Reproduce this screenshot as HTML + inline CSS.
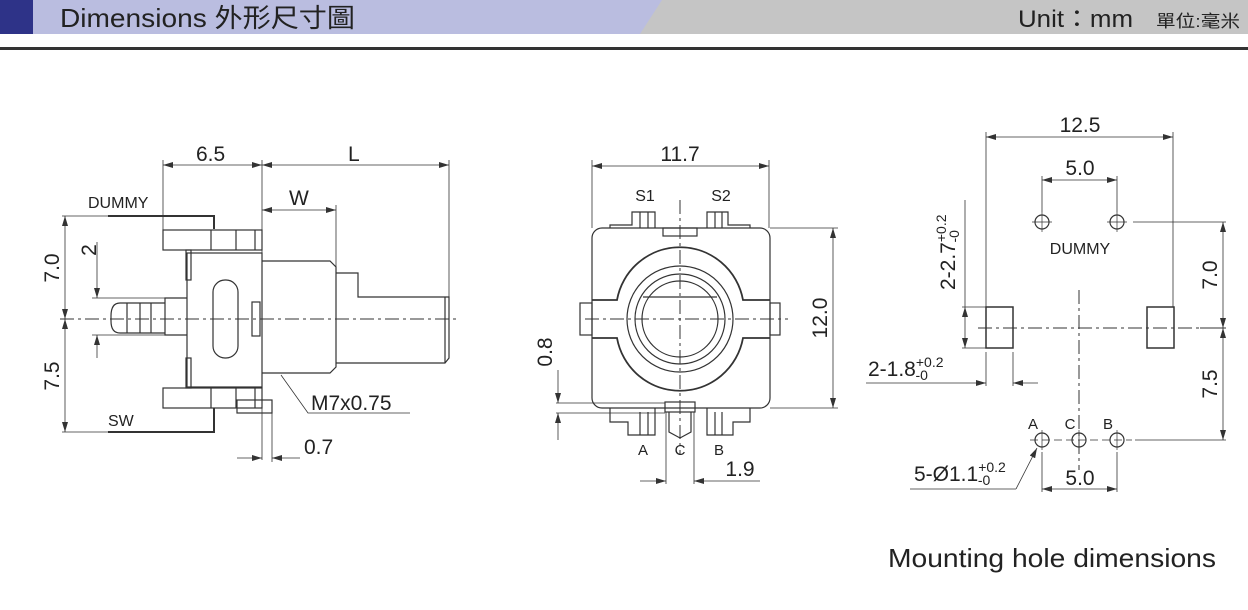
<!DOCTYPE html>
<html><head><meta charset="utf-8"><style>
html,body{margin:0;padding:0;background:#fff;width:1248px;height:610px;overflow:hidden}
svg{display:block}
text{font-family:"Liberation Sans","Noto Sans CJK TC",sans-serif;fill:#222}
</style></head><body>
<svg width="1248" height="610" viewBox="0 0 1248 610" xmlns="http://www.w3.org/2000/svg">
<defs>
<marker id="a" viewBox="0 0 10 6" refX="10" refY="3" markerWidth="10" markerHeight="6" orient="auto-start-reverse" markerUnits="userSpaceOnUse"><path d="M0,0L10,3L0,6z" fill="#333"/></marker>
</defs>
<!-- header -->
<rect x="0" y="0" width="1248" height="34" fill="#c5c5c5"/>
<polygon points="0,0 662,0 640,34 0,34" fill="#babde0"/>
<rect x="0" y="0" width="33" height="34" fill="#2e3388"/>
<text x="60" y="27" font-size="26" fill="#111" textLength="295" lengthAdjust="spacingAndGlyphs">Dimensions  外形尺寸圖</text>
<text x="1018" y="27" font-size="24" fill="#111" textLength="115" lengthAdjust="spacingAndGlyphs">Unit：mm</text>
<text x="1156" y="27" font-size="17" fill="#111" textLength="84" lengthAdjust="spacingAndGlyphs">單位:毫米</text>
<rect x="0" y="47" width="1248" height="3" fill="#333"/>

<g fill="none" stroke="#333" stroke-width="1.2">
<!-- LEFT VIEW -->
<line x1="60" y1="319" x2="458" y2="319" stroke-dasharray="14,4,3,4" stroke-width="1"/>
<line x1="163" y1="160" x2="163" y2="230" stroke-width="0.8"/>
<line x1="262" y1="160" x2="262" y2="460" stroke-width="0.8"/>
<line x1="449" y1="160" x2="449" y2="297" stroke-width="0.8"/>
<line x1="336" y1="205" x2="336" y2="273" stroke-width="0.8"/>
<line x1="163" y1="165" x2="262" y2="165" marker-start="url(#a)" marker-end="url(#a)" stroke-width="0.8"/>
<line x1="262" y1="165" x2="449" y2="165" marker-start="url(#a)" marker-end="url(#a)" stroke-width="0.8"/>
<line x1="262" y1="210" x2="336" y2="210" marker-start="url(#a)" marker-end="url(#a)" stroke-width="0.8"/>
<rect x="187" y="253" width="75" height="134"/>
<rect x="163" y="230" width="99" height="20"/>
<rect x="163" y="388" width="99" height="20"/>
<line x1="211" y1="230" x2="211" y2="250"/><line x1="236" y1="230" x2="236" y2="250"/><line x1="255" y1="230" x2="255" y2="250"/>
<line x1="211" y1="388" x2="211" y2="408"/><line x1="236" y1="388" x2="236" y2="408"/><line x1="255" y1="388" x2="255" y2="408"/>
<rect x="237" y="400" width="35" height="13"/>
<rect x="213" y="280" width="25" height="78" rx="12"/>
<rect x="252" y="302" width="8" height="34"/>
<rect x="186" y="250" width="5" height="30"/><rect x="186" y="358" width="5" height="30"/>
<polyline points="108,216 214,216 214,229" stroke-width="2"/>
<polyline points="108,432 214,432 214,408" stroke-width="2"/>
<path d="M187,298 L165,298 L165,335 L187,335"/>
<path d="M165,303 L120,303 Q111,303 111,316 L111,321 Q111,333 120,333 L165,333"/>
<line x1="127" y1="303" x2="127" y2="333"/><line x1="140" y1="303" x2="140" y2="333"/><line x1="151" y1="303" x2="151" y2="333"/>
<path d="M262,261 L330,261 L336,267 L336,367 L330,373 L262,373"/>
<path d="M336,273 L358,273 L358,297 L449,297 L449,358 L445,363 L336,363"/>
<line x1="445" y1="297" x2="445" y2="363"/>
<line x1="62" y1="216" x2="108" y2="216" stroke-width="0.8"/>
<line x1="62" y1="432" x2="108" y2="432" stroke-width="0.8"/>
<line x1="65" y1="216" x2="65" y2="319" marker-start="url(#a)" marker-end="url(#a)" stroke-width="0.8"/>
<line x1="65" y1="319" x2="65" y2="432" marker-start="url(#a)" marker-end="url(#a)" stroke-width="0.8"/>
<line x1="92" y1="298" x2="165" y2="298" stroke-width="0.8"/>
<line x1="92" y1="335" x2="165" y2="335" stroke-width="0.8"/>
<line x1="97" y1="242" x2="97" y2="298" marker-end="url(#a)" stroke-width="0.8"/>
<line x1="97" y1="358" x2="97" y2="335" marker-end="url(#a)" stroke-width="0.8"/>
<polyline points="281,375 308,413 410,413" stroke-width="0.8"/>
<line x1="272" y1="413" x2="272" y2="462" stroke-width="0.8"/>
<line x1="237" y1="458" x2="262" y2="458" marker-end="url(#a)" stroke-width="0.8"/>
<line x1="300" y1="458" x2="272" y2="458" marker-end="url(#a)" stroke-width="0.8"/>

<!-- MIDDLE VIEW -->
<line x1="592" y1="160" x2="592" y2="228" stroke-width="0.8"/>
<line x1="769" y1="160" x2="769" y2="228" stroke-width="0.8"/>
<line x1="592" y1="166" x2="769" y2="166" marker-start="url(#a)" marker-end="url(#a)" stroke-width="0.8"/>
<line x1="770" y1="228" x2="838" y2="228" stroke-width="0.8"/>
<line x1="770" y1="408" x2="838" y2="408" stroke-width="0.8"/>
<line x1="833" y1="228" x2="833" y2="408" marker-start="url(#a)" marker-end="url(#a)" stroke-width="0.8"/>
<rect x="592" y="228" width="178" height="180" rx="10"/>
<rect x="580" y="303" width="12" height="32"/><rect x="770" y="303" width="10" height="32"/>
<path d="M592,300 L617,300 A64,64 0 0 1 743,300 L770,300 M592,338 L617,338 A64,64 0 0 0 743,338 L770,338" stroke-width="1.8"/>
<circle cx="680" cy="319" r="53"/><circle cx="680" cy="319" r="45"/><circle cx="680" cy="319" r="38"/>
<line x1="643" y1="297" x2="717" y2="297"/>
<rect x="663" y="228" width="34" height="8"/>
<rect x="665" y="402" width="30" height="10"/>
<path d="M610,228 L610,225 L632,225 L632,212 L655,212 L655,228 M707,228 L707,212 L728,212 L728,225 L750,225 L750,228"/>
<line x1="640" y1="212" x2="640" y2="228"/><line x1="648" y1="212" x2="648" y2="228"/><line x1="715" y1="212" x2="715" y2="228"/><line x1="722" y1="212" x2="722" y2="228"/>
<path d="M610,408 L610,422 L628,422 L628,435 L655,435 L655,408 M707,408 L707,435 L733,435 L733,422 L750,422 L750,408"/>
<line x1="640" y1="412" x2="640" y2="435"/><line x1="648" y1="412" x2="648" y2="435"/><line x1="715" y1="412" x2="715" y2="435"/><line x1="722" y1="412" x2="722" y2="435"/>
<path d="M669,412 L669,432 L680,438 L691,432 L691,412"/>
<line x1="585" y1="319" x2="788" y2="319" stroke-dasharray="14,4,3,4" stroke-width="1"/>
<line x1="680" y1="200" x2="680" y2="455" stroke-dasharray="14,4,3,4" stroke-width="1"/>
<line x1="556" y1="403" x2="665" y2="403" stroke-width="0.8"/>
<line x1="556" y1="413" x2="665" y2="413" stroke-width="0.8"/>
<line x1="558" y1="370" x2="558" y2="403" marker-end="url(#a)" stroke-width="0.8"/>
<line x1="558" y1="440" x2="558" y2="413" marker-end="url(#a)" stroke-width="0.8"/>
<line x1="666" y1="412" x2="666" y2="484" stroke-width="0.8"/>
<line x1="694" y1="412" x2="694" y2="484" stroke-width="0.8"/>
<line x1="640" y1="481" x2="666" y2="481" marker-end="url(#a)" stroke-width="0.8"/>
<line x1="760" y1="481" x2="694" y2="481" marker-end="url(#a)" stroke-width="0.8"/>

<!-- RIGHT VIEW -->
<line x1="986" y1="132" x2="986" y2="307" stroke-width="0.8"/>
<line x1="1173" y1="132" x2="1173" y2="307" stroke-width="0.8"/>
<line x1="986" y1="137" x2="1173" y2="137" marker-start="url(#a)" marker-end="url(#a)" stroke-width="0.8"/>
<line x1="1042" y1="176" x2="1042" y2="212" stroke-width="0.8"/>
<line x1="1117" y1="176" x2="1117" y2="212" stroke-width="0.8"/>
<line x1="1042" y1="180" x2="1117" y2="180" marker-start="url(#a)" marker-end="url(#a)" stroke-width="0.8"/>
<circle cx="1042" cy="222" r="7"/><circle cx="1117" cy="222" r="7"/>
<path d="M1032,222h20M1042,212v20M1107,222h20M1117,212v20" stroke-width="0.7"/>
<rect x="986" y="307" width="27" height="41" stroke-width="1.5"/>
<rect x="1147" y="307" width="27" height="41" stroke-width="1.5"/>
<line x1="978" y1="328" x2="1200" y2="328" stroke-dasharray="14,4,3,4" stroke-width="1"/>
<line x1="1079" y1="290" x2="1079" y2="470" stroke-dasharray="14,4,3,4" stroke-width="1"/>
<line x1="1133" y1="222" x2="1226" y2="222" stroke-width="0.8"/>
<line x1="1135" y1="440" x2="1226" y2="440" stroke-width="0.8"/>
<line x1="1200" y1="328" x2="1226" y2="328" stroke-width="1"/>
<line x1="1223" y1="222" x2="1223" y2="328" marker-start="url(#a)" marker-end="url(#a)" stroke-width="0.8"/>
<line x1="1223" y1="328" x2="1223" y2="440" marker-start="url(#a)" marker-end="url(#a)" stroke-width="0.8"/>
<line x1="962" y1="307" x2="986" y2="307" stroke-width="0.8"/>
<line x1="962" y1="348" x2="986" y2="348" stroke-width="0.8"/>
<line x1="965" y1="200" x2="965" y2="307" stroke-width="0.8"/>
<line x1="965" y1="307" x2="965" y2="348" marker-start="url(#a)" marker-end="url(#a)" stroke-width="0.8"/>
<line x1="986" y1="352" x2="986" y2="386" stroke-width="0.8"/>
<line x1="1013" y1="352" x2="1013" y2="386" stroke-width="0.8"/>
<line x1="866" y1="383" x2="986" y2="383" marker-end="url(#a)" stroke-width="0.8"/>
<line x1="1038" y1="383" x2="1013" y2="383" marker-end="url(#a)" stroke-width="0.8"/>
<line x1="1030" y1="440" x2="1132" y2="440" stroke-dasharray="8,4" stroke-width="0.8"/>
<circle cx="1042" cy="440" r="7"/><circle cx="1079" cy="440" r="7"/><circle cx="1117" cy="440" r="7"/>
<path d="M1042,430v20M1079,430v20M1117,430v20" stroke-width="0.7"/>
<line x1="1042" y1="452" x2="1042" y2="492" stroke-width="0.8"/>
<line x1="1117" y1="452" x2="1117" y2="492" stroke-width="0.8"/>
<line x1="1042" y1="489" x2="1117" y2="489" marker-start="url(#a)" marker-end="url(#a)" stroke-width="0.8"/>
<polyline points="910,489 1016,489" stroke-width="0.8"/>
<line x1="1016" y1="489" x2="1037" y2="448" marker-end="url(#a)" stroke-width="0.8"/>
</g>

<g font-size="21">
<text x="196" y="161">6.5</text>
<text x="348" y="161">L</text>
<text x="289" y="205">W</text>
<text x="88" y="208" font-size="16">DUMMY</text>
<text x="108" y="426" font-size="16">SW</text>
<text transform="translate(59,268) rotate(-90)" text-anchor="middle">7.0</text>
<text transform="translate(59,376) rotate(-90)" text-anchor="middle">7.5</text>
<text transform="translate(96,250) rotate(-90)" text-anchor="middle">2</text>
<text x="311" y="410">M7x0.75</text>
<text x="304" y="454">0.7</text>

<text x="680" y="161" text-anchor="middle">11.7</text>
<text x="645" y="201" font-size="16" text-anchor="middle">S1</text>
<text x="721" y="201" font-size="16" text-anchor="middle">S2</text>
<text x="643" y="455" font-size="15" text-anchor="middle">A</text>
<text x="680" y="455" font-size="15" text-anchor="middle">C</text>
<text x="719" y="455" font-size="15" text-anchor="middle">B</text>
<text x="740" y="476" text-anchor="middle">1.9</text>
<text transform="translate(827,318) rotate(-90)" text-anchor="middle">12.0</text>
<text transform="translate(552,352) rotate(-90)" text-anchor="middle">0.8</text>

<text x="1080" y="132" text-anchor="middle">12.5</text>
<text x="1080" y="175" text-anchor="middle">5.0</text>
<text x="1080" y="254" font-size="16" text-anchor="middle">DUMMY</text>
<text transform="translate(1217,275) rotate(-90)" text-anchor="middle">7.0</text>
<text transform="translate(1217,384) rotate(-90)" text-anchor="middle">7.5</text>
<text transform="translate(955,290) rotate(-90)">2-2.7<tspan font-size="14" dy="-9">+0.2</tspan><tspan font-size="14" dx="-28" dy="13">-0</tspan></text>
<text x="868" y="376">2-1.8<tspan font-size="14" dy="-9">+0.2</tspan><tspan font-size="14" dx="-28" dy="13">-0</tspan></text>
<text x="1033" y="429" font-size="15" text-anchor="middle">A</text>
<text x="1070" y="429" font-size="15" text-anchor="middle">C</text>
<text x="1108" y="429" font-size="15" text-anchor="middle">B</text>
<text x="914" y="481">5-Ø1.1<tspan font-size="14" dy="-9">+0.2</tspan><tspan font-size="14" dx="-28" dy="13">-0</tspan></text>
<text x="1080" y="485" text-anchor="middle">5.0</text>
<text x="888" y="567" font-size="26" textLength="328" lengthAdjust="spacingAndGlyphs">Mounting hole dimensions</text>
</g>
</svg>
</body></html>
